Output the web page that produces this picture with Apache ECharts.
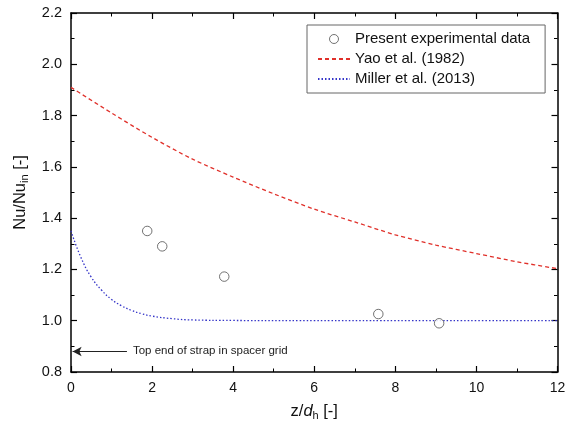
<!DOCTYPE html>
<html>
<head>
<meta charset="utf-8">
<script src="https://cdn.jsdelivr.net/npm/echarts@6/dist/echarts.min.js"></script>
<style>
  html, body { margin: 0; padding: 0; background: #fff; }
  #main { width: 575px; height: 429px; }
</style>
</head>
<body>
<div id="main"></div>
<script>
// experimental points (z/dh, Nu/Nu_in)
var expZ  = [1.88, 2.25, 3.78, 7.58, 9.08];
var expNu = [1.35, 1.29, 1.172, 1.026, 0.99];

// Yao et al. (1982) curve
var yaoZ  = [0, 1, 2, 3, 4, 5, 6, 7, 8, 9, 10, 11, 12];
var yaoNu = [1.91, 1.81, 1.715, 1.63, 1.56, 1.495, 1.435, 1.385, 1.335, 1.295, 1.262, 1.23, 1.203];

// Miller et al. (2013) curve
var milZ  = [0, 0.25, 0.5, 0.75, 1, 1.25, 1.5, 1.75, 2, 2.5, 3, 4, 6, 8, 10, 12];
var milNu = [1.35, 1.245, 1.17, 1.12, 1.083, 1.058, 1.04, 1.027, 1.018, 1.008, 1.003, 1.001, 1.0, 1.0, 1.0, 1.0];

// annotation arrow
var noteY = 0.88;
var noteFrom = 1.38, noteTo = 0.04;
var noteText = 'Top end of strap in spacer grid';

function pairs(xs, ys) { return xs.map(function (x, i) { return [x, ys[i]]; }); }

var font = 'Liberation Sans, Arial, sans-serif';
var chart = echarts.init(document.getElementById('main'), null, { renderer: 'canvas' });

var axisCommon = {
  axisLine: { show: true, onZero: false, lineStyle: { color: '#000', width: 1.5 } },
  axisTick: { show: true, inside: true, length: 6, lineStyle: { color: '#000', width: 1.2 } },
  minorTick: { show: true, splitNumber: 2, length: 3.5, lineStyle: { color: '#000', width: 1 } },
  splitLine: { show: false }
};

var hidden = { color: 'rgba(0,0,0,0)', borderWidth: 0 };
var ring = { color: '#fff', borderColor: '#505050', borderWidth: 1 };

var option = {
  animation: false,
  grid: { left: 71, right: 17.5, top: 13, bottom: 57 },
  legend: {
    orient: 'vertical',
    left: 307, top: 25,
    padding: [6, 15, 6, 10],
    itemGap: 4,
    itemWidth: 32, itemHeight: 9,
    borderColor: '#666', borderWidth: 1,
    textStyle: { fontFamily: font, fontSize: 15, color: '#111', lineHeight: 16 },
    data: [
      { name: 'Present experimental data', icon: 'circle', itemStyle: ring },
      { name: 'Yao et al. (1982)', itemStyle: hidden },
      { name: 'Miller et al. (2013)', itemStyle: hidden }
    ]
  },
  xAxis: [
    Object.assign({
      type: 'value', min: 0, max: 12, interval: 2,
      name: '{a|z/}{i|d}{s|h}{a| [-]}',
      nameLocation: 'middle', nameGap: 29,
      nameTextStyle: { rich: {
        a: { fontFamily: font, fontSize: 16.5, color: '#111' },
        i: { fontFamily: font, fontSize: 16.5, fontStyle: 'italic', color: '#111' },
        s: { fontFamily: font, fontSize: 11, color: '#111', verticalAlign: 'bottom', padding: [9, 0, 0, 0] }
      } },
      axisLabel: { fontFamily: font, fontSize: 14, color: '#111', margin: 9 }
    }, axisCommon),
    Object.assign({
      type: 'value', min: 0, max: 12, interval: 2, position: 'top',
      axisLabel: { show: false }
    }, axisCommon)
  ],
  yAxis: [
    Object.assign({
      type: 'value', min: 0.8, max: 2.2, interval: 0.2,
      name: '{a|Nu/Nu}{s|in}{a| [-]}',
      nameLocation: 'middle', nameGap: 27, nameRotate: 90,
      nameTextStyle: { rich: {
        a: { fontFamily: font, fontSize: 16.5, color: '#111' },
        s: { fontFamily: font, fontSize: 11, color: '#111', verticalAlign: 'bottom', padding: [9, 0, 0, 0] }
      } },
      axisLabel: { fontFamily: font, fontSize: 14.5, color: '#111', margin: 9,
        formatter: function (v) { return v.toFixed(1); } }
    }, axisCommon),
    Object.assign({
      type: 'value', min: 0.8, max: 2.2, interval: 0.2, position: 'right',
      axisLabel: { show: false }
    }, axisCommon)
  ],
  series: [
    {
      name: 'Yao et al. (1982)', type: 'line',
      data: pairs(yaoZ, yaoNu), smooth: 0.3,
      symbol: 'none', z: 2,
      itemStyle: { color: '#e0302a' },
      lineStyle: { color: '#e0302a', width: 1.3, type: [4, 3] }
    },
    {
      name: 'Miller et al. (2013)', type: 'line',
      data: pairs(milZ, milNu), smooth: 0.5,
      symbol: 'none', z: 2,
      itemStyle: { color: '#3434c8' },
      lineStyle: { color: '#3434c8', width: 1.3, type: [1.5, 2] },
      markLine: {
        silent: true, symbol: ['none', 'arrow'], symbolSize: [7, 9],
        label: { show: false },
        lineStyle: { color: '#222', width: 1, type: 'solid' },
        data: [[{ coord: [noteFrom, noteY] }, { coord: [noteTo, noteY] }]]
      }
    },
    {
      name: 'Present experimental data', type: 'scatter',
      data: pairs(expZ, expNu), symbol: 'circle', symbolSize: 9.5, z: 3,
      itemStyle: ring
    }
  ]
};
chart.setOption(option);

var p = chart.convertToPixel({ gridIndex: 0 }, [noteFrom, noteY]);
chart.setOption({
  graphic: [{
    type: 'text', left: p[0] + 6, top: p[1] - 7,
    style: { text: noteText, fontFamily: font, fontSize: 11.5, fill: '#222' }
  }]
});
</script>
</body>
</html>
